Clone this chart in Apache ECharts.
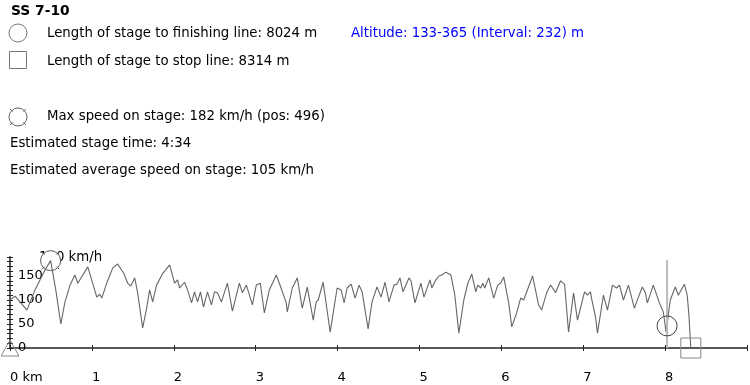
<!DOCTYPE html>
<html><head><meta charset="utf-8">
<script src="https://cdn.jsdelivr.net/npm/echarts@6/dist/echarts.min.js"></script>
<style>html,body{margin:0;padding:0;background:#fff}#c{width:750px;height:385px}</style>
</head><body><div id="c"></div>
<script>
// ---- data (distance in metres, speed in km/h) ----
const distances = [0,61,122,207,305,426,496,560,621,670,731,792,828,950,1060,1096,1121,1181,1255,1315,
1364,1389,1437,1474,1523,1559,1620,1669,1705,1742,1790,1864,1949,2010,2046,2071,2132,2168,2217,2253,
2290,2326,2363,2412,2460,2497,2533,2582,2655,2716,2801,2838,2887,2911,2960,3008,3057,3106,3167,3252,
3289,3313,3374,3386,3447,3508,3569,3630,3703,3739,3764,3824,3910,3995,4044,4080,4117,4141,4166,4214,
4263,4300,4373,4421,4482,4531,4580,4628,4689,4725,4762,4799,4872,4897,4945,5018,5055,5128,5152,5201,
5237,5274,5323,5335,5384,5432,5481,5542,5591,5639,5688,5712,5749,5773,5797,5846,5907,5956,5992,6029,
6090,6127,6151,6187,6236,6273,6382,6455,6492,6553,6601,6626,6650,6662,6723,6772,6821,6882,6930,7016,
7052,7089,7101,7150,7174,7247,7296,7357,7406,7442,7491,7552,7625,7674,7722,7759,7783,7856,7930,7978,
8012,8063,8124,8161,8235,8270,8290,8314];
const speeds = [100,108,96,79,121,162,182,120,50,95,130,152,135,169,106,112,104,135,167,175,
162,156,135,129,146,115,42,83,121,96,131,155,173,135,142,125,137,121,94,117,
96,117,85,117,90,117,115,96,135,77,135,115,131,127,90,131,135,73,121,152,
135,138,94,75,125,146,83,127,58,96,100,137,33,125,121,94,125,122,133,104,
131,117,40,96,127,106,137,96,131,133,146,117,146,140,94,135,106,142,125,142,
150,152,158,162,152,110,31,100,135,154,117,131,125,135,125,146,104,131,135,148,
94,44,42,73,104,100,150,90,79,115,131,125,129,115,140,133,33,115,58,117,
110,117,104,65,31,110,79,131,125,131,100,131,83,106,127,115,94,131,94,75,
33,100,127,110,133,110,70,0];
const xTickLabels = ['0 km','1','2','3','4','5','6','7','8',''];
const yLabelValues = [0,50,100,150];
const maxSpeed = 182, maxSpeedPos = 496;
const finishLength = 8024, finishMarkerSpeed = 46, finishLineTop = 183;
const stopLength = 8314;
const titleText = 'SS 7-10';
const infoFinish = 'Length of stage to finishing line: 8024 m';
const infoStop = 'Length of stage to stop line: 8314 m';
const infoAltitude = 'Altitude: 133-365 (Interval: 232) m';
const infoMax = 'Max speed on stage: 182 km/h (pos: 496)';
const infoTime = 'Estimated stage time: 4:34';
const infoAvg = 'Estimated average speed on stage: 105 km/h';
const speedUnitLabel = '180 km/h';

const FONT = 'DejaVu Sans';
const FS = 13.3;
const chart = echarts.init(document.getElementById('c'), null, {renderer:'canvas'});
const lineData = distances.map((d,i)=>[d, speeds[i]]);
const iconGray = '#777';

function txt(x, y, s, extra){
  return Object.assign({type:'text', x:x, y:y, style:{text:s, font:FS+'px "'+FONT+'"', fill:'#000', textVerticalAlign:'middle'}}, extra||{});
}
function maxIcon(cx, cy, r){
  const els = [{type:'circle', shape:{cx:cx, cy:cy, r:r}, style:{fill:'#fff', stroke:'#666', lineWidth:1}}];
  [[1,1],[1,-1],[-1,1],[-1,-1]].forEach(([a,b])=>{
    const k = Math.SQRT1_2;
    els.push({type:'line', shape:{x1:cx+a*k*r*0.85, y1:cy+b*k*r*0.85, x2:cx+a*k*r*1.25, y2:cy+b*k*r*1.25}, style:{stroke:'#666', lineWidth:1}});
  });
  return els;
}

const graphicEls = [
  {type:'text', x:11, y:11, style:{text:titleText, font:'bold 13.8px "'+FONT+'"', fill:'#000', textVerticalAlign:'middle'}},
  {type:'circle', shape:{cx:18, cy:33, r:9}, style:{fill:'none', stroke:iconGray, lineWidth:1}},
  txt(47, 33.5, infoFinish),
  {type:'text', x:351, y:33.5, style:{text:infoAltitude, font:FS+'px "'+FONT+'"', fill:'#0000ff', textVerticalAlign:'middle'}},
  {type:'rect', shape:{x:9.5, y:51.5, width:17, height:17}, style:{fill:'none', stroke:iconGray, lineWidth:1}},
  txt(47, 61.5, infoStop),
  txt(47, 117, infoMax),
  txt(10, 144, infoTime),
  txt(10, 171, infoAvg),
  txt(39, 258, speedUnitLabel)
].concat(maxIcon(18, 117, 9));

const option = {
  animation:false,
  backgroundColor:'#fff',
  textStyle:{fontFamily:FONT},
  graphic:{elements:graphicEls},
  grid:{left:10, right:1, top:256.8, bottom:37, containLabel:false},
  xAxis:[{
    type:'value', min:0, max:9000, interval:1000, position:'bottom',
    axisLine:{show:true, onZero:false, lineStyle:{color:'#222', width:1.5}},
    axisTick:{show:true, length:3, lineStyle:{color:'#222'}},
    splitLine:{show:false},
    axisLabel:{show:true, margin:23, align:'left', fontSize:13, fontFamily:FONT, color:'#000',
      formatter:(v)=>xTickLabels[Math.round(v/1000)]}
  },{
    type:'value', min:0, max:9000, interval:1000, position:'bottom',
    axisLine:{show:false}, axisLabel:{show:false}, splitLine:{show:false},
    axisTick:{show:true, inside:true, length:3, lineStyle:{color:'#222'}}
  }],
  yAxis:[{
    type:'value', min:0, max:190, interval:10,
    axisLine:{show:true, onZero:false, lineStyle:{color:'#222', width:1.5}},
    axisTick:{show:true, length:3, lineStyle:{color:'#222'}},
    splitLine:{show:false},
    axisLabel:{show:true, inside:true, margin:8, fontSize:13, fontFamily:FONT, color:'#000',
      formatter:(v)=> yLabelValues.indexOf(v)>=0 ? String(v) : ''}
  },{
    type:'value', min:0, max:190, interval:10, position:'left',
    axisLine:{show:false}, axisLabel:{show:false}, splitLine:{show:false},
    axisTick:{show:true, inside:true, length:3, lineStyle:{color:'#222'}}
  }],
  series:[
    { // max speed marker (under the line)
      type:'custom', z:1, silent:true,
      data:[[maxSpeedPos, maxSpeed]],
      renderItem:(params, api)=>{
        const p = api.coord([api.value(0), api.value(1)]);
        return {type:'group', children: maxIcon(p[0], p[1], 10).map(e=>Object.assign(e,{style:Object.assign({}, e.style, {stroke:'#555'})}))};
      }
    },
    {
      type:'line', z:3, data:lineData, showSymbol:false, symbol:'none', smooth:false,
      lineStyle:{color:'#666', width:1.1}, silent:true
    },
    { // finish line marker
      type:'custom', z:4, silent:true,
      data:[[finishLength, finishMarkerSpeed, finishLineTop]],
      renderItem:(params, api)=>{
        const c = api.coord([api.value(0), api.value(1)]);
        const b = api.coord([api.value(0), 0]);
        const t = api.coord([api.value(0), api.value(2)]);
        return {type:'group', children:[
          {type:'line', shape:{x1:b[0], y1:b[1], x2:t[0], y2:t[1]}, style:{stroke:'#bbb', lineWidth:2}},
          {type:'circle', shape:{cx:c[0], cy:c[1], r:10}, style:{fill:'none', stroke:'#444', lineWidth:1}}
        ]};
      }
    },
    { // stop line marker and start triangle
      type:'custom', z:4, silent:true,
      data:[[stopLength, 0, 0]],
      renderItem:(params, api)=>{
        const s = api.coord([api.value(0), api.value(1)]);
        const o = api.coord([api.value(2), 0]);
        return {type:'group', children:[
          {type:'rect', shape:{x:s[0]-10, y:s[1]-10, width:20, height:20}, style:{fill:'none', stroke:'#888', lineWidth:1}},
          {type:'polygon', shape:{points:[[o[0], o[1]-8],[o[0]-9, o[1]+8],[o[0]+9, o[1]+8]]}, style:{fill:'none', stroke:'#888', lineWidth:1}}
        ]};
      }
    }
  ]
};
chart.setOption(option);
</script>
</body></html>
